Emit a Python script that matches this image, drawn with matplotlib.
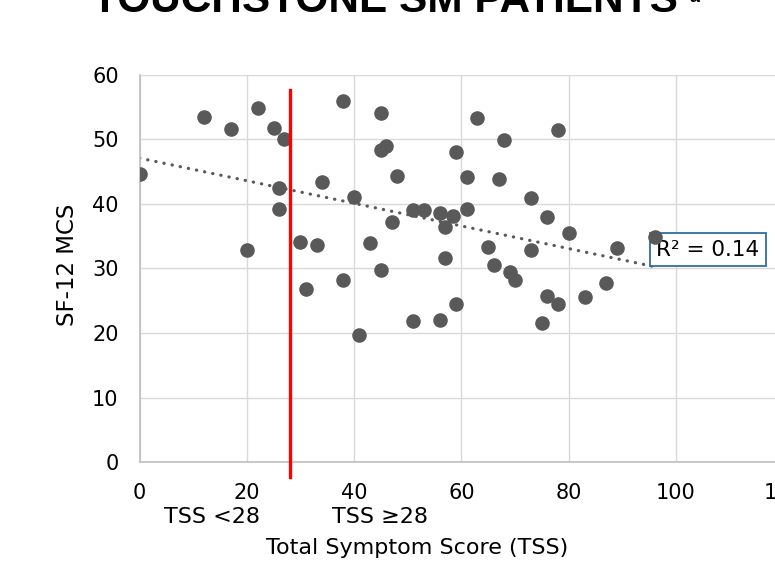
import numpy as np
import matplotlib
matplotlib.use("Agg")
import matplotlib.pyplot as plt
from matplotlib.transforms import blended_transform_factory

plt.rcParams['font.family'] = ['DejaVu Sans']

# Data
tss = [0, 12, 17, 22, 25, 27, 26, 26, 20, 38, 45, 45, 46, 48, 34, 40, 51, 53,
       56, 47, 57, 58.5, 61, 30, 33, 43, 45, 31, 38, 57, 51, 56, 41, 63, 78,
       68, 59, 61, 67, 73, 76, 80, 89, 96, 65, 73, 66, 69, 70, 76, 78, 83, 87,
       59, 75]
mcs = [44.7, 53.5, 51.6, 54.9, 51.7, 50.1, 42.5, 39.2, 32.9, 56.0, 54.1, 48.3,
       48.9, 44.3, 43.4, 41.0, 39.1, 39.1, 38.6, 37.2, 36.4, 38.1, 39.2, 34.1,
       33.6, 33.9, 29.8, 26.8, 28.2, 31.7, 21.9, 22.1, 19.7, 53.3, 51.5, 49.9,
       48.0, 44.2, 43.8, 40.9, 38.0, 35.5, 33.2, 34.8, 33.3, 32.9, 30.6, 29.5,
       28.2, 25.8, 24.5, 25.6, 27.8, 24.5, 21.5]
cutoff = 28
r2_label = "R² = 0.14"
xticks = [0, 20, 40, 60, 80, 100, 120]
yticks = [0, 10, 20, 30, 40, 50, 60]

fig = plt.figure(figsize=(7.75, 5.62), dpi=100)
ax = fig.add_axes([0.18, 0.1774, 0.8307, 0.6897])

ax.scatter(tss, mcs, s=110, color='#595959', zorder=3, linewidths=0)

# linear trendline over the data range
slope, icpt = np.polyfit(tss, mcs, 1)
xs = np.array([min(tss), max(tss)])
ax.plot(xs, slope * xs + icpt, color='#595959', lw=2.3,
        linestyle=(0, (0.1, 2.5)), dash_capstyle='round', zorder=2)

ax.plot([cutoff, cutoff], [-2.3, 57.7], color='#ff0000', lw=2.4,
        clip_on=False, zorder=4)

ax.set_xlim(0, 120)
ax.set_ylim(0, 60)
ax.set_xticks(xticks)
ax.set_yticks(yticks)
ax.grid(True, color='#d9d9d9', lw=1.0, zorder=0)
ax.set_axisbelow(True)
for side in ['top', 'right']:
    ax.spines[side].set_visible(False)
for side in ['left', 'bottom']:
    ax.spines[side].set_color('#bfbfbf')
    ax.spines[side].set_linewidth(1.2)
ax.tick_params(length=0, labelsize=15, colors='black')
ax.tick_params(axis='x', pad=15)
ax.tick_params(axis='y', pad=15)

ax.text(105.9, 32.9, r2_label, fontsize=15.5, ha='center', va='center', zorder=2.5,
        bbox=dict(boxstyle='square,pad=0.3', fc='white', ec='#2e6e9e', lw=1.3))

trans = blended_transform_factory(ax.transData, fig.transFigure)
ax.text(13.5, 1 - 517 / 562, "TSS <28", transform=trans, fontsize=16,
        ha='center', va='center')
ax.text(44.8, 1 - 517 / 562, "TSS ≥28", transform=trans, fontsize=16,
        ha='center', va='center')

fig.text(417 / 775, 1 - 548 / 562, "Total Symptom Score (TSS)", fontsize=16,
         ha='center', va='center')
fig.text(67.5 / 775, 1 - 265 / 562, "SF-12 MCS", fontsize=16.5, rotation=90,
         ha='center', va='center')

fig.text(92 / 775, 1 - 12 / 562, "TOUCHSTONE SM PATIENTS", fontsize=30.5,
         fontweight='bold', family='Liberation Sans', ha='left', va='baseline')
fig.text(689 / 775, 1 - 2 / 562, "a", fontsize=13, fontweight='bold',
         family='Liberation Sans', ha='left', va='baseline')

fig.savefig("out.png", dpi=100)
